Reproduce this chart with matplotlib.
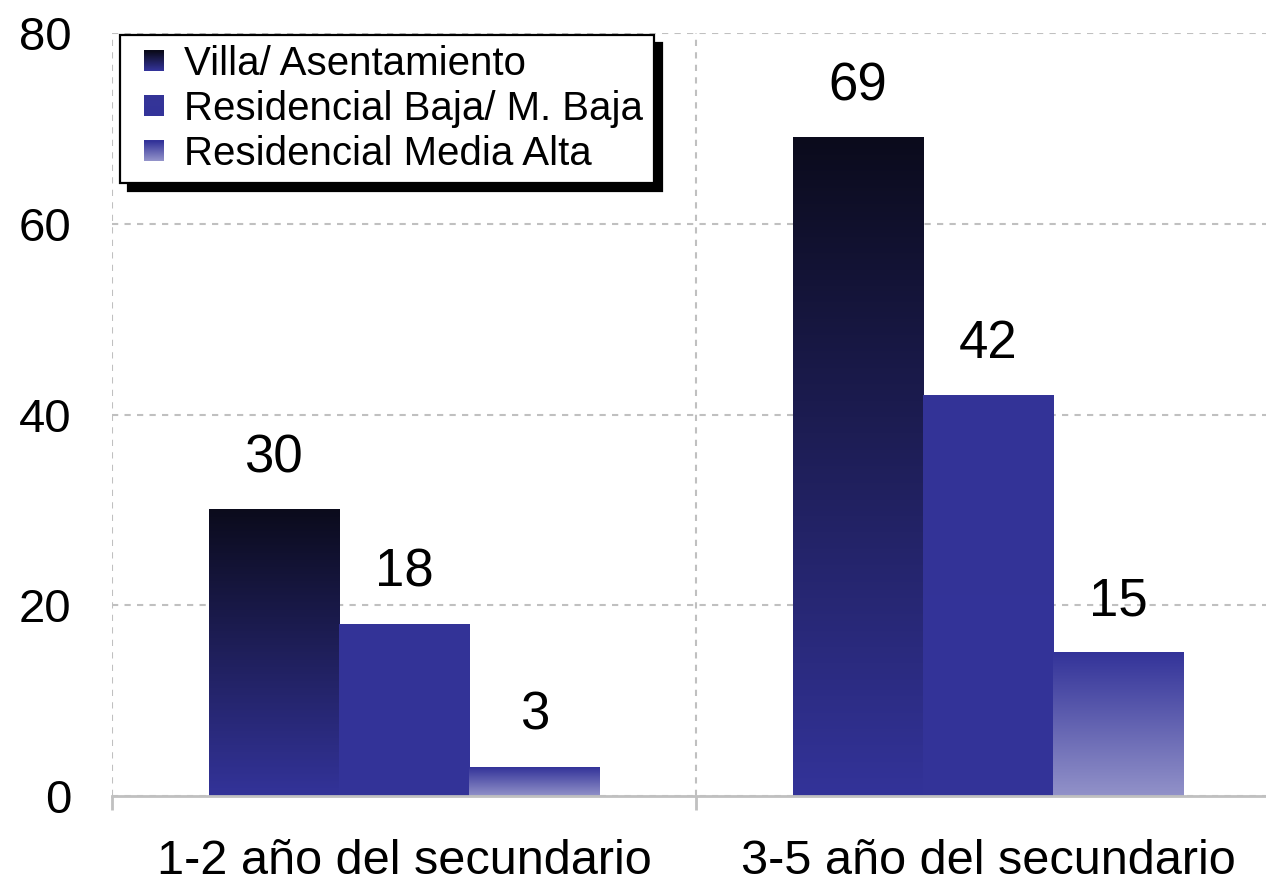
import numpy as np
import matplotlib.pyplot as plt
from matplotlib.patches import Rectangle
from matplotlib.legend_handler import HandlerBase
from matplotlib.colors import LinearSegmentedColormap

plt.rcParams['font.family'] = ['Liberation Sans', 'DejaVu Sans']

categories = ["1-2 año del secundario", "3-5 año del secundario"]
series = ["Villa/ Asentamiento", "Residencial Baja/ M. Baja", "Residencial Media Alta"]
villa = [30, 69]
baja = [18, 42]
media_alta = [3, 15]
values = [villa, baja, media_alta]
yticks = [0, 20, 40, 60, 80]

# gradients: (top colour, bottom colour)
grads = [("#0b0b1c", "#333399"), ("#343497", "#333399"), ("#333399", "#9292c9")]
cmaps = [LinearSegmentedColormap.from_list(f"g{i}", [g[1], g[0]]) for i, g in enumerate(grads)]


class GradHandler(HandlerBase):
    def __init__(self, cmap, side=14.5):
        super().__init__()
        self.cmap = cmap
        self.side = side

    def create_artists(self, legend, orig_handle, xdescent, ydescent,
                       width, height, fontsize, trans):
        n = 20
        side = self.side
        x0 = -xdescent + width - side
        y0 = -ydescent + (height - side) / 2
        arts = []
        for k in range(n):
            r = Rectangle((x0, y0 + side * k / n), side, side / n + 0.3,
                          facecolor=self.cmap(k / (n - 1)), edgecolor="none",
                          transform=trans)
            arts.append(r)
        return arts


fig = plt.figure(figsize=(12.66, 8.89), dpi=100)
ax = fig.add_axes([112 / 1266, 1 - 796 / 889, (1280 - 112) / 1266, (796 - 33) / 889])

x = np.arange(len(categories))
w = 0.223
handles = []
for i, (vals, cmap) in enumerate(zip(values, cmaps)):
    pos = x + (i - 1) * w
    bars = ax.bar(pos, vals, width=w, color=cmap(0.5), zorder=2)
    grad = np.linspace(1, 0, 256).reshape(-1, 1)
    for b, v in zip(bars, vals):
        ax.imshow(grad, cmap=cmap, aspect="auto", zorder=3,
                  extent=[b.get_x(), b.get_x() + w, 0, v], origin="upper")
        ax.annotate(str(v), (b.get_x() + w / 2, v), xytext=(0, 27),
                    textcoords="offset points", ha="center", va="baseline",
                    fontsize=38, zorder=4)
    handles.append(bars)

ax.set_xlim(-0.5, 1.5)
ax.set_ylim(0, 80)
ax.set_yticks(yticks)
ax.tick_params(axis="y", length=0, pad=29, labelsize=34)
ax.set_xticks(x)
ax.set_xticklabels(categories)
ax.tick_params(axis="x", which="major", length=0, pad=31, labelsize=35)
ax.set_xticks([-0.5, 0.5, 1.5], minor=True)
ax.tick_params(axis="x", which="minor", length=10, width=2, color="#c0c0c0")

ax.grid(axis="y", which="major", color="#c0c0c0", linestyle=(0, (3, 3)), linewidth=1.5, zorder=1)
ax.grid(axis="x", which="minor", color="#c0c0c0", linestyle=(0, (3, 3)), linewidth=1.5, zorder=1)
ax.set_axisbelow(True)
for s in ["top", "right", "left"]:
    ax.spines[s].set_visible(False)
ax.spines["bottom"].set_color("#c0c0c0")
ax.spines["bottom"].set_linewidth(2)
ax.spines["bottom"].set_zorder(5)

leg = ax.legend(handles, series, loc="upper left",
                bbox_to_anchor=(120 / 1266, 1 - 35 / 889), bbox_transform=fig.transFigure,
                borderaxespad=0, fancybox=False, fontsize=29,
                handler_map={h: GradHandler(c) for h, c in zip(handles, cmaps)},
                handlelength=0.85, handleheight=0.6, handletextpad=0.5,
                labelspacing=0.17, borderpad=0.25,
                shadow={"ox": 6, "oy": -6, "facecolor": "black", "edgecolor": "black", "alpha": 1})
leg.get_frame().set_edgecolor("black")
leg.get_frame().set_linewidth(1.6)
leg.set_zorder(10)

fig.savefig("out.png", dpi=100)
